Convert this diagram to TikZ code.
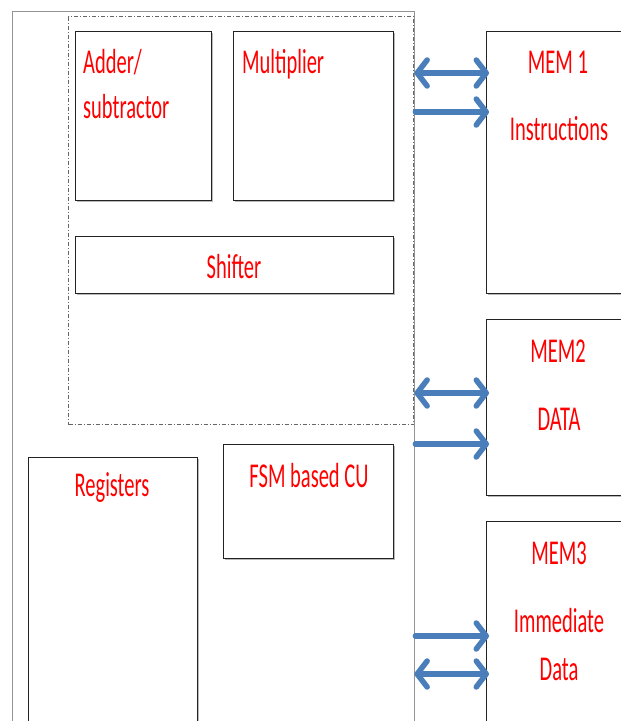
\documentclass[tikz,border=0pt]{standalone}
\usepackage{fontspec}
\usepackage{graphicx}
\setmainfont{Carlito}
\usetikzlibrary{arrows.meta,shadows}
\definecolor{arrowblue}{RGB}{74,126,187}
\definecolor{boxline}{RGB}{35,35,35}
\newcommand{\tallt}[1]{\scalebox{1}[1.7]{#1}}
\tikzset{
  unitbox/.style={draw=boxline, line width=1.2pt, fill=white, rectangle, inner sep=0pt, anchor=north west,
    drop shadow={shadow xshift=1.3pt, shadow yshift=-1.3pt, fill=gray!55, opacity=1}},
  outerbox/.style={draw=gray!85, line width=1.4pt, rectangle, inner sep=0pt, anchor=north west},
  alubox/.style={draw=gray!80!black, line width=1.1pt, rectangle, inner sep=0pt, anchor=north west,
    dash pattern=on 4pt off 2pt on 1pt off 2pt},
  lbl/.style={text=red, font=\fontsize{20.5}{24}\selectfont, inner sep=0pt},
  bus/.style={draw=arrowblue, line width=5.5pt, line cap=round,
    -{Straight Barb[length=10pt,width=26pt,round]}},
  dbus/.style={draw=arrowblue, line width=5.5pt, line cap=round,
    {Straight Barb[length=10pt,width=26pt,round]}-{Straight Barb[length=10pt,width=26pt,round]}},
}
\begin{document}
\begin{tikzpicture}[x=1pt,y=-1pt]
\useasboundingbox (0,0) rectangle (621,721);
\clip (0,0) rectangle (621,721);
% outer CPU box
\node[outerbox, minimum width=402pt, minimum height=730pt] (cpu) at (12,11) {};
% dash-dot ALU region
\node[alubox, minimum width=345pt, minimum height=408pt] (alu) at (68,16) {};
% units
\node[unitbox, minimum width=136pt, minimum height=169pt] (adder) at (75,31) {};
\node[unitbox, minimum width=160pt, minimum height=169pt] (mult) at (233,31) {};
\node[unitbox, minimum width=318pt, minimum height=57pt] (shift) at (75,236) {};
\node[unitbox, minimum width=169pt, minimum height=300pt] (regs) at (28,457) {};
\node[unitbox, minimum width=170pt, minimum height=114pt] (fsm) at (223,444) {};
% memories
\node[unitbox, minimum width=200pt, minimum height=262pt] (mem1) at (486,31) {};
\node[unitbox, minimum width=200pt, minimum height=176pt] (mem2) at (486,319) {};
\node[unitbox, minimum width=200pt, minimum height=260pt] (mem3) at (486,521) {};
% labels
\node[lbl, anchor=base west] (adderA) at (83,73) {\tallt{Adder/}};
\node[lbl, anchor=base west] (adderB) at (83,118) {\tallt{subtractor}};
\node[lbl, anchor=base west] (multT) at (242,73) {\tallt{Multiplier}};
\node[lbl, anchor=base] (shiftT) at (234,278) {\tallt{Shifter}};
\node[lbl, anchor=base] (regT) at (112,496) {\tallt{Registers}};
\node[lbl, anchor=base] (fsmT) at (309,487) {\tallt{FSM based CU}};
\node[lbl, anchor=base] (m1a) at (558,73) {\tallt{MEM 1}};
\node[lbl, anchor=base] (m1b) at (559,140) {\tallt{Instructions}};
\node[lbl, anchor=base] (m2a) at (558,362) {\tallt{MEM2}};
\node[lbl, anchor=base] (m2b) at (559,430) {\tallt{DATA}};
\node[lbl, anchor=base] (m3a) at (559,564) {\tallt{MEM3}};
\node[lbl, anchor=base] (m3b) at (559,632) {\tallt{Immediate}};
\node[lbl, anchor=base] (m3c) at (559,680) {\tallt{Data}};
% bus levels
\coordinate (y1) at (0,73);
\coordinate (y2) at (0,112);
\coordinate (y3) at (0,393);
\coordinate (y4) at (0,444);
\coordinate (y5) at (0,636);
\coordinate (y6) at (0,674);
% buses
\draw[dbus, shorten <=-1pt, shorten >=-3pt] (cpu.east |- y1) -- (mem1.west |- y1);
\draw[bus, shorten >=-3pt] (cpu.east |- y2) -- (mem1.west |- y2);
\draw[dbus, shorten <=-1pt, shorten >=-3pt] (cpu.east |- y3) -- (mem2.west |- y3);
\draw[bus, shorten >=-3pt] (cpu.east |- y4) -- (mem2.west |- y4);
\draw[bus, shorten >=-3pt] (cpu.east |- y5) -- (mem3.west |- y5);
\draw[dbus, shorten <=-1pt, shorten >=-3pt] (cpu.east |- y6) -- (mem3.west |- y6);
\end{tikzpicture}
\end{document}
